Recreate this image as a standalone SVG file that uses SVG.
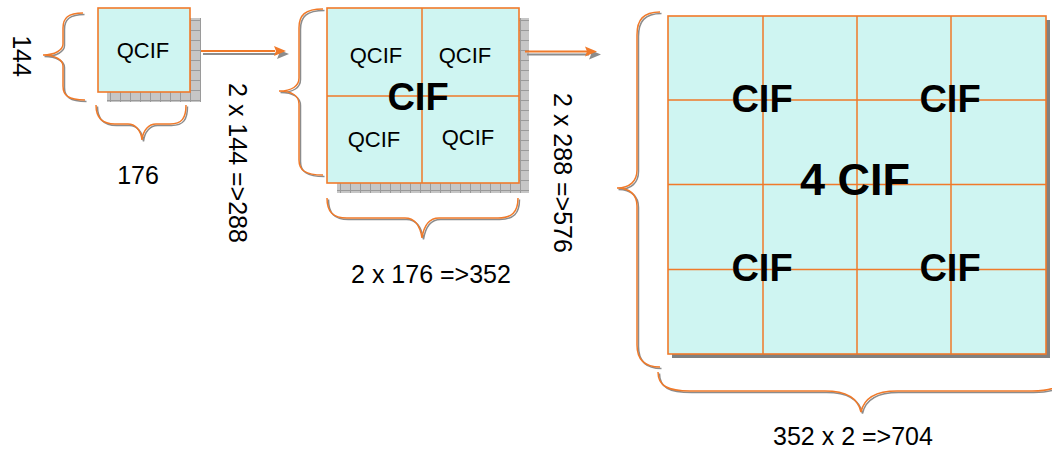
<svg xmlns="http://www.w3.org/2000/svg" width="1052" height="451" viewBox="0 0 1052 451">
<style>
.box{fill:#CFF5F2;stroke:#F07A2A;stroke-width:1.6}
.grid{stroke:#F07A2A;stroke-width:1.5;fill:none}
.hatch{fill:url(#hatch)}
.br{fill:none;stroke:#F07A2A;stroke-width:1.5}
.brs{fill:none;stroke:#8C8C8C;stroke-width:1.5}
.lbl{font-family:"Liberation Sans",Arial,sans-serif;font-size:25px;fill:#000;text-anchor:middle}
.q{font-family:"Liberation Sans",Arial,sans-serif;font-size:22px;fill:#000;text-anchor:middle}
.b{font-family:"Liberation Sans",Arial,sans-serif;font-weight:bold;font-size:38px;fill:#000;text-anchor:middle}
.ln{stroke:#F07A2A;stroke-width:2;fill:none}
.lns{stroke:#8C8C8C;stroke-width:2;fill:none}
</style>
<defs>
<pattern id="hatch" width="10" height="10" patternUnits="userSpaceOnUse">
<rect width="10" height="10" fill="#C6C6C6"/>
<path d="M0,0.5H10M0.5,0V10" stroke="#9A9A9A" stroke-width="1"/>
</pattern>
</defs>

<g id="qcif">
<rect class="hatch" x="107" y="18" width="94" height="84"/>
<rect class="box" x="98" y="8" width="92" height="84"/>
<text class="q" x="143" y="58">QCIF</text>
</g>

<g id="cif">
<rect class="hatch" x="337" y="18" width="192" height="175"/>
<rect class="box" x="327" y="8" width="192" height="175"/>
<path class="grid" d="M422,8V183M327,96H519"/>
<text class="q" x="376" y="63">QCIF</text>
<text class="q" x="465" y="63">QCIF</text>
<text class="q" x="374" y="147">QCIF</text>
<text class="q" x="468" y="145">QCIF</text>
<text class="b" x="418" y="110">CIF</text>
</g>

<g id="cif4">
<rect x="672" y="20" width="378" height="338" fill="#808080"/>
<rect class="box" x="668" y="16" width="378" height="338"/>
<path class="grid" d="M763,16V354M857,16V354M951,16V354M668,100H1046M668,184.5H1046M668,269.5H1046"/>
<text class="b" x="762" y="112">CIF</text>
<text class="b" x="950" y="112">CIF</text>
<text class="b" x="762" y="281">CIF</text>
<text class="b" x="950" y="281">CIF</text>
<text class="b" x="855" y="195" style="font-size:45px">4 CIF</text>
</g>

<g id="braces">
<g transform="translate(1.5,1.5)" class="brs">
<path d="M83,13C68,13 63,18 63,28L63,44C63,50 55,55 43,55C55,55 63,60 63,66L63,86C63,95 68,100 85,100"/>
<path d="M96,105C96,118 102,124 115,124L128,124C135,124 141,130 142,140C143,130 149,124 156,124L170,124C182,124 186,118 186,105"/>
<path d="M323,9C305,9 299,15 299,28L299,78C299,86 292,91 279,91C292,91 299,96 299,104L299,160C299,170 305,175 323,175"/>
<path d="M327,198C327,212 333,218 347,218L405,218C414,218 420,225 422,238C424,225 430,218 439,218L498,218C512,218 518,212 518,198"/>
<path d="M660,12C643,12 637,20 637,35L637,170C637,181 630,188 617,188C630,188 637,195 637,206L637,345C637,360 645,367 660,367"/>
<path d="M658,372C658,386 668,391 690,391L825,391C845,391 858,398 861,412C864,398 877,391 897,391L1032,391C1054,391 1064,386 1064,372"/>
</g>
<g class="br">
<path d="M83,13C68,13 63,18 63,28L63,44C63,50 55,55 43,55C55,55 63,60 63,66L63,86C63,95 68,100 85,100"/>
<path d="M96,105C96,118 102,124 115,124L128,124C135,124 141,130 142,140C143,130 149,124 156,124L170,124C182,124 186,118 186,105"/>
<path d="M323,9C305,9 299,15 299,28L299,78C299,86 292,91 279,91C292,91 299,96 299,104L299,160C299,170 305,175 323,175"/>
<path d="M327,198C327,212 333,218 347,218L405,218C414,218 420,225 422,238C424,225 430,218 439,218L498,218C512,218 518,212 518,198"/>
<path d="M660,12C643,12 637,20 637,35L637,170C637,181 630,188 617,188C630,188 637,195 637,206L637,345C637,360 645,367 660,367"/>
<path d="M658,372C658,386 668,391 690,391L825,391C845,391 858,398 861,412C864,398 877,391 897,391L1032,391C1054,391 1064,386 1064,372"/>
</g>
</g>

<g id="labels">
<text class="lbl" transform="translate(21.5,56) rotate(90)" x="0" y="9">144</text>
<text class="lbl" x="138" y="184">176</text>
<text class="lbl" transform="translate(238,163) rotate(90)" x="0" y="9">2 x 144 =&gt;288</text>
<text class="lbl" x="431" y="283">2 x 176 =&gt;352</text>
<text class="lbl" transform="translate(563,173) rotate(90)" x="0" y="9">2 x 288 =&gt;576</text>
<text class="lbl" x="853" y="445">352 x 2 =&gt;704</text>
</g>

<g id="connectors">
<path class="lns" d="M203,54H277"/>
<polygon points="277,49 289,54 277,59 279,54" fill="#8C8C8C"/>
<path class="ln" d="M201,51H275"/>
<polygon points="274,46 286,51 274,56 276,51" fill="#F07A2A"/>
<path class="lns" d="M527,54.5H589"/>
<polygon points="589,49.5 601,54.5 589,59.5 591,54.5" fill="#8C8C8C"/>
<path class="ln" d="M525,51.5H587"/>
<polygon points="585,46.5 597,51.5 585,56.5 587,51.5" fill="#F07A2A"/>
</g>
</svg>
